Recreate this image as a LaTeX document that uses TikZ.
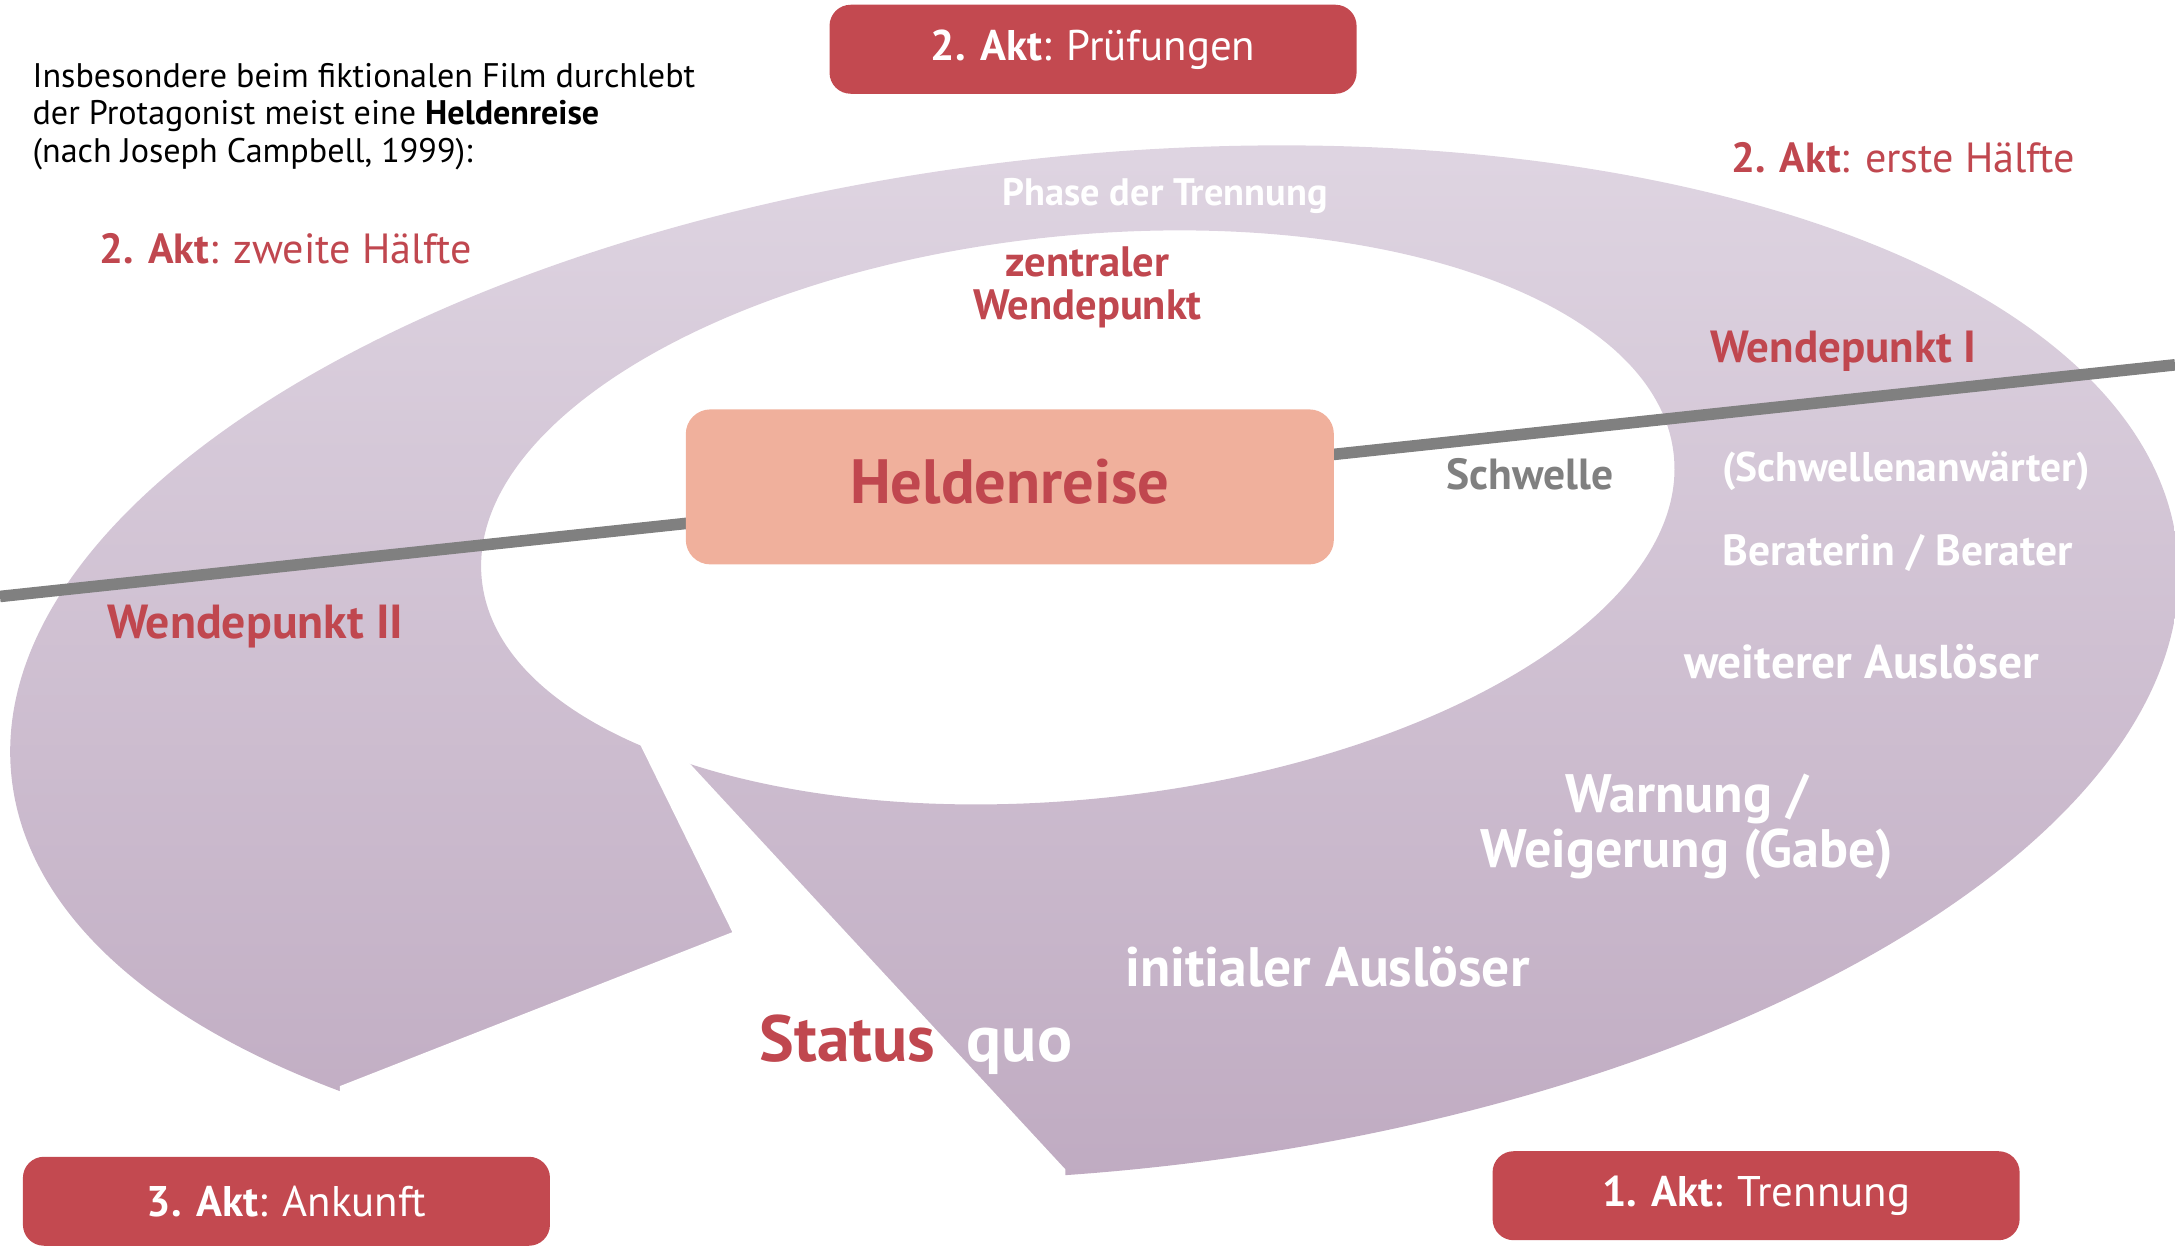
\documentclass[tikz,border=0pt]{standalone}
\usepackage{fontspec}
\setmainfont{PT Sans}
\definecolor{aktrot}{HTML}{C34950}
\definecolor{textrot}{HTML}{C0474F}
\definecolor{lachs}{HTML}{F0B09C}
\definecolor{ringoben}{HTML}{DED4E1}
\definecolor{ringunten}{HTML}{BEA9C0}
\definecolor{schwellgrau}{HTML}{808080}
\begin{document}
\begin{tikzpicture}[x=0.01387cm,y=-0.01387cm,
  akt/.style={rectangle,rounded corners=6pt,fill=aktrot,text=white,
    minimum width=5.27cm,minimum height=0.89cm,font=\fontsize{12.2}{12.2}\selectfont},
  aktlabel/.style={text=textrot,anchor=base,font=\fontsize{12}{12}\selectfont},
  rotfett/.style={text=textrot,align=center,font=\bfseries\fontsize{#1}{#1}\selectfont},
  weissfett/.style={text=white,align=center,font=\bfseries\fontsize{#1}{#1}\selectfont}]
\useasboundingbox (0,0) rectangle (1568,900);

\shade[top color=ringoben,bottom color=ringunten,even odd rule]
  (789,478) ellipse [x radius=785,y radius=366,rotate=6]
  (777,373) ellipse [x radius=432,y radius=203,rotate=6];
\fill[white] (440,493) -- (528,672) -- (245,783) -- (245,885)
  -- (768,885) -- (768,843) -- (470,521) -- cycle;

\coordinate (schwelleL) at (0,430);
\coordinate (schwelleR) at (1568,263);
\draw[schwellgrau,line width=3.3pt] (schwelleL) -- (schwelleR);

\node[fill=lachs,rounded corners=7pt,minimum width=6.48cm,minimum height=1.55cm,
  text depth=0.3em,rotfett=17.8] (held) at (728,351) {Heldenreise};

\node[anchor=north west,align=left,inner sep=0pt,font=\fontsize{9.7}{10.7}\selectfont]
  (intro) at (23,45) {Insbesondere beim fiktionalen Film durchlebt\\
  der Protagonist meist eine \textbf{Heldenreise}\\(nach Joseph Campbell, 1999):};

\node[akt] (akt2) at (788,35.5) {\textbf{2. Akt}: Prüfungen};
\node[akt] (akt3) at (206.5,866) {\textbf{3. Akt}: Ankunft};
\node[akt] (akt1) at (1266,862) {\textbf{1. Akt}: Trennung};

\node[aktlabel] (erste) at (1372,124) {\textbf{2. Akt}: erste Hälfte};
\node[aktlabel] (zweite) at (206,190) {\textbf{2. Akt}: zweite Hälfte};

\node[weissfett=10.9,anchor=base] (phase) at (840,148) {Phase der Trennung};
\node[rotfett=12.1] (zentral) at (784,207) {zentraler\\Wendepunkt};
\node[rotfett=12.8,anchor=base] (wende1) at (1329,261) {Wendepunkt I};
\node[rotfett=13.6,anchor=base] (wende2) at (184,460) {Wendepunkt II};
\node[text=schwellgrau,font=\bfseries\fontsize{12.4}{12.4}\selectfont,anchor=base]
  (schwelle) at (1103,353) {Schwelle};
\node[weissfett=11.8,anchor=base] (anwaerter) at (1374,347) {(Schwellenanwärter)};
\node[weissfett=12.4,anchor=base] (berater) at (1368,408) {Beraterin / Berater};
\node[weissfett=13.5,anchor=base] (weiterer) at (1342,489) {weiterer Auslöser};
\node[weissfett=15.4] (warnung) at (1216,596) {Warnung /\\Weigerung (Gabe)};
\node[weissfett=15.8,anchor=base] (initial) at (957,711) {initialer Auslöser};
\node[rotfett=18.6,anchor=base] (status) at (611,765) {Status};
\node[weissfett=18.6,anchor=base] (quo) at (735,765) {quo};
\end{tikzpicture}
\end{document}
